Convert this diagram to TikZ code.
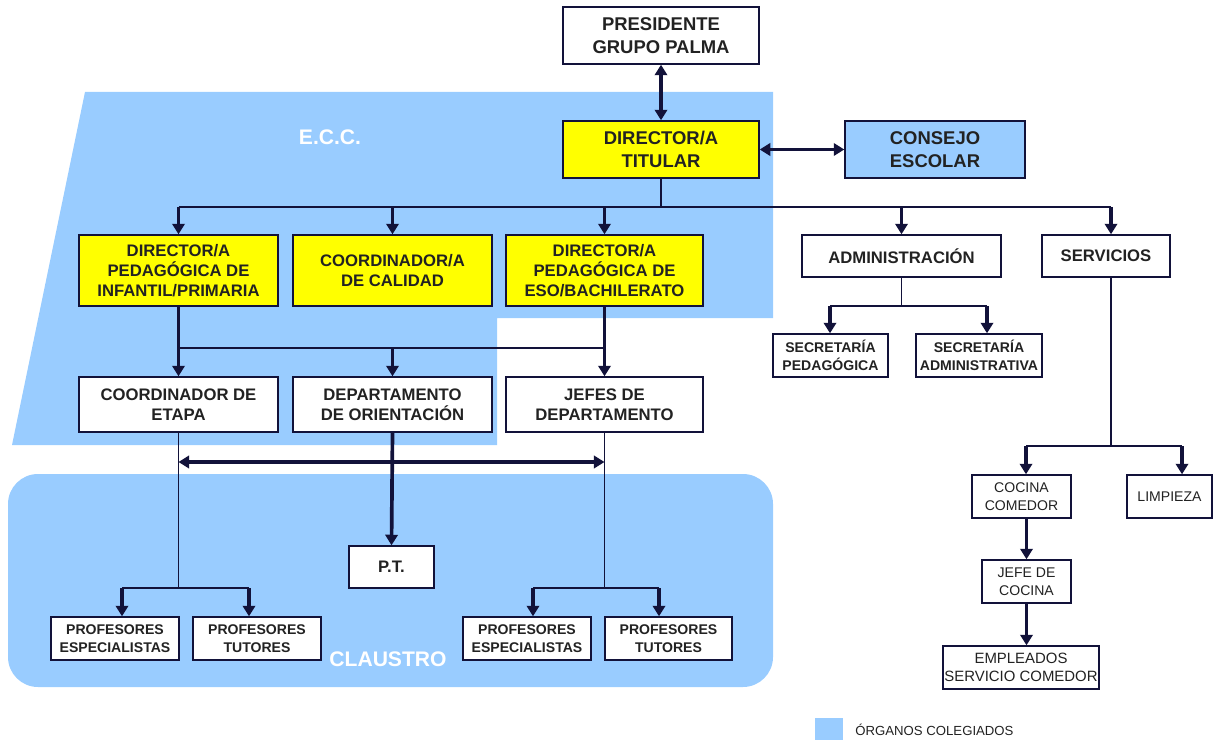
\documentclass[tikz,border=0pt]{standalone}
\usepackage{fontspec}
\setmainfont{Liberation Sans}
\usetikzlibrary{arrows.meta}
\definecolor{orgblue}{HTML}{99CCFF}
\definecolor{ylw}{HTML}{FFFF00}
\definecolor{lnc}{HTML}{12123A}
\definecolor{txt}{HTML}{222222}
\newcommand\bx[7]{\node[#6, minimum width={(#4-#2)*0.02cm}, minimum height={(#5-#3)*0.02cm}] (#1) at ({(#2+#4)/2},{(#3+#5)/2}) {#7};}
\tikzset{
  box/.style={draw=lnc, line width=0.8pt, fill=white, align=center, inner sep=0pt, text=txt,
    font=\bfseries\fontsize{9.5}{11.3}\selectfont},
  bigbox/.style={box, font=\bfseries\fontsize{10.5}{12.9}\selectfont},
  ybox/.style={box, fill=ylw},
  smbox/.style={box, font=\bfseries\fontsize{8}{10}\selectfont},
  rgbox/.style={box, font=\fontsize{8}{10}\selectfont},
  thk/.style={draw=lnc, line width=2.1pt, -{Triangle[width=7pt,length=6pt]}},
  dbl/.style={draw=lnc, line width=2.1pt, {Triangle[width=7pt,length=6pt]}-{Triangle[width=7pt,length=6pt]}},
  thn/.style={draw=lnc, line width=0.9pt},
  wlabel/.style={text=white, font=\bfseries\fontsize{12}{14}\selectfont},
}
\begin{document}
\begin{tikzpicture}[x=0.02cm, y=-0.02cm]
\useasboundingbox (0,0) rectangle (1216,740);
% background groups
\fill[orgblue] (85,92) -- (773,92) -- (773,318) -- (497,318) -- (497,445) -- (12,445) -- cycle;
\fill[orgblue, rounded corners=0.6cm] (8,474) rectangle (773,687);
\node[wlabel] (ecc) at (330,137) {E.C.C.};
\node[wlabel] (cla) at (388,659) {CLAUSTRO};
% boxes
\bx{pres}{563}{7}{759}{64}{bigbox}{PRESIDENTE\\GRUPO PALMA}
\bx{tit}{563}{121}{759}{178}{bigbox, fill=ylw}{DIRECTOR/A\\TITULAR}
\bx{cons}{845}{121}{1025}{178}{bigbox, fill=orgblue}{CONSEJO\\ESCOLAR}
\bx{dinf}{79}{235}{278}{306}{ybox}{DIRECTOR/A\\PEDAGÓGICA DE\\INFANTIL/PRIMARIA}
\bx{coca}{293}{235}{492}{306}{ybox}{COORDINADOR/A\\DE CALIDAD}
\bx{deso}{506}{235}{703}{306}{ybox}{DIRECTOR/A\\PEDAGÓGICA DE\\ESO/BACHILERATO}
\bx{coet}{79}{377}{278}{432}{box}{COORDINADOR DE\\ETAPA}
\bx{dori}{293}{377}{492}{432}{box}{DEPARTAMENTO\\DE ORIENTACIÓN}
\bx{jefes}{506}{377}{703}{432}{box}{JEFES DE\\DEPARTAMENTO}
\bx{pt}{349}{546}{434}{588}{box}{P.T.}
\bx{pe1}{51}{617}{179}{660}{smbox}{PROFESORES\\ESPECIALISTAS}
\bx{pt1}{193}{617}{321}{660}{smbox}{PROFESORES\\TUTORES}
\bx{pe2}{463}{617}{591}{660}{smbox}{PROFESORES\\ESPECIALISTAS}
\bx{pt2}{605}{617}{732}{660}{smbox}{PROFESORES\\TUTORES}
\bx{adm}{802}{235}{1001}{277}{box}{ADMINISTRACIÓN}
\bx{serv}{1042}{235}{1170}{277}{box}{SERVICIOS}
\bx{secp}{773}{334}{888}{377}{smbox}{SECRETARÍA\\PEDAGÓGICA}
\bx{seca}{916}{334}{1042}{377}{smbox}{SECRETARÍA\\ADMINISTRATIVA}
\bx{coc}{972}{475}{1071}{518}{rgbox}{COCINA\\COMEDOR}
\bx{limp}{1127}{475}{1212}{518}{rgbox}{LIMPIEZA}
\bx{jefc}{982}{560}{1071}{603}{rgbox}{JEFE DE\\COCINA}
\bx{emp}{943}{646}{1099}{689}{rgbox, font=\fontsize{8.5}{10.2}\selectfont}{EMPLEADOS\\SERVICIO COMEDOR}
% legend
\bx{legsq}{815}{718}{843}{740}{fill=orgblue, inner sep=0pt}{}
\node[anchor=west, text=txt, font=\fontsize{7.5}{9}\selectfont, inner sep=0pt] (leg) at (855,730) {ÓRGANOS COLEGIADOS};
% junction coordinates
\coordinate (b1) at (0,207);
\coordinate (b2) at (0,348);
\coordinate (b3) at (0,462);
\coordinate (b4) at (0,588);
\coordinate (sx) at (1111,0);
\coordinate (a1) at (122,588);
\coordinate (a2) at (249,588);
\coordinate (a3) at (533,588);
\coordinate (a4) at (659,588);
\coordinate (a5) at (830,306);
\coordinate (a6) at (987,306);
\coordinate (a7) at (1026,446);
\coordinate (a8) at (1182,446);
% connectors
\draw[dbl] (pres.south) -- (tit.north);
\draw[dbl] (tit.east) -- (cons.west);
\draw[thn] (tit.south) -- (tit.south |- b1);
\draw[thn] (dinf.north |- b1) -- (sx |- b1);
\foreach \n in {dinf,coca,deso,adm}{\draw[thk] (\n.north |- b1) -- (\n.north);}
\draw[thk] (sx |- b1) -- (sx |- serv.north);
\draw[thk] (dinf.south) -- (coet.north);
\draw[thk] (deso.south) -- (jefes.north);
\draw[thn] (dinf.south |- b2) -- (deso.south |- b2);
\draw[thk] (coca.south |- b2) -- (dori.north);
\draw[dbl] (coet.south |- b3) -- (jefes.south |- b3);
\draw[thn] (coet.south) -- (coet.south |- b4);
\draw[thn] (a1) -- (a2);
\draw[thk] (a1) -- (a1 |- pe1.north);
\draw[thk] (a2) -- (a2 |- pt1.north);
\draw[thk] (dori.south) -- (pt.north);
\draw[thn] (jefes.south) -- (jefes.south |- b4);
\draw[thn] (a3) -- (a4);
\draw[thk] (a3) -- (a3 |- pe2.north);
\draw[thk] (a4) -- (a4 |- pt2.north);
\draw[thn] (adm.south) -- (adm.south |- a5);
\draw[thn] (a5) -- (a6);
\draw[thk] (a5) -- (a5 |- secp.north);
\draw[thk] (a6) -- (a6 |- seca.north);
\draw[thn] (sx |- serv.south) -- (sx |- a7);
\draw[thn] (a7) -- (a8);
\draw[thk] (a7) -- (a7 |- coc.north);
\draw[thk] (a8) -- (a8 |- limp.north);
\draw[thk] (jefc.north |- coc.south) -- (jefc.north);
\draw[thk] (jefc.south) -- (jefc.south |- emp.north);
\end{tikzpicture}
\end{document}
